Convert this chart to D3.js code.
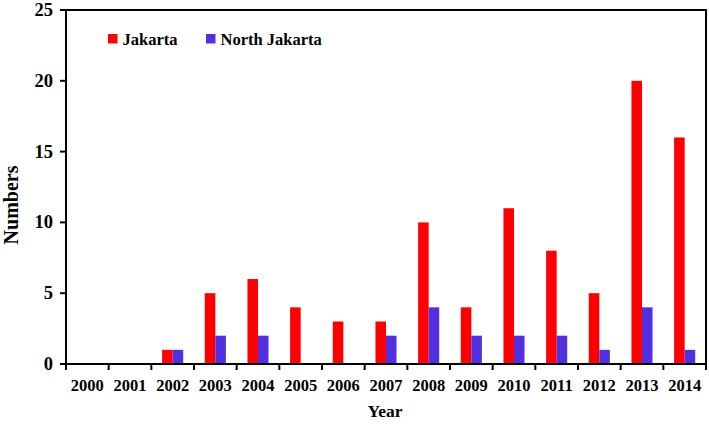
<!DOCTYPE html>
<html><head><meta charset="utf-8">
<script src="https://cdn.jsdelivr.net/npm/d3@7/dist/d3.min.js"></script>
<style>body{margin:0;background:#fff}svg{display:block}text{font-family:"Liberation Serif","Times New Roman",serif;font-weight:bold}</style>
</head><body><svg id="c" width="709" height="426"></svg>
<script>
const years = ["2000","2001","2002","2003","2004","2005","2006","2007","2008","2009","2010","2011","2012","2013","2014"];
const jakarta = [0,0,1,5,6,4,3,3,10,4,11,8,5,20,16];
const northJakarta = [0,0,1,2,2,0,0,2,4,2,2,2,1,4,1];
const seriesNames = ["Jakarta","North Jakarta"];
const yTicks = [0,5,10,15,20,25];
const colors = ["#ff0000","#5030e0"];

const svg = d3.select("#c");
const m = {l:66, r:3, t:10, b:62};
const W = 709, H = 426;
const x = d3.scaleBand().domain(years).range([m.l, W-m.r]).paddingInner(0).paddingOuter(0);
const y = d3.scaleLinear().domain([0,25]).range([H-m.b, m.t]);
const bw = x.bandwidth()*0.247;
const series = [jakarta, northJakarta];

const g = svg.append("g");
series.forEach((vals,si)=>{
  g.selectAll(".b"+si).data(years).enter().append("rect")
    .attr("x", d=>x(d)+x.bandwidth()/2 - bw + si*bw)
    .attr("width", bw)
    .attr("y", (d,i)=>y(vals[i]))
    .attr("height", (d,i)=>y(0)-y(vals[i]))
    .attr("fill", colors[si]);
});

// frame
svg.append("rect").attr("x",m.l).attr("y",m.t).attr("width",W-m.r-m.l).attr("height",H-m.b-m.t)
  .attr("fill","none").attr("stroke","#000").attr("stroke-width",2);

// x axis ticks at boundaries
const xb = years.map(d=>x(d)).concat([W-m.r]);
svg.selectAll(".xt").data(xb).enter().append("line")
  .attr("x1",d=>d).attr("x2",d=>d).attr("y1",H-m.b).attr("y2",H-m.b+6)
  .attr("stroke","#000").attr("stroke-width",2);
svg.selectAll(".xl").data(years).enter().append("text")
  .attr("x",d=>x(d)+x.bandwidth()/2).attr("y",H-m.b+27)
  .attr("text-anchor","middle").attr("font-size",16.5).text(d=>d);

// y axis
svg.selectAll(".yt").data(yTicks).enter().append("line")
  .attr("x1",m.l-6).attr("x2",m.l).attr("y1",d=>y(d)).attr("y2",d=>y(d))
  .attr("stroke","#000").attr("stroke-width",2);
svg.selectAll(".yl").data(yTicks).enter().append("text")
  .attr("x",m.l-13).attr("y",d=>y(d)+6)
  .attr("text-anchor","end").attr("font-size",18.5).text(d=>d);

// axis titles
svg.append("text").attr("x",385).attr("y",417).attr("text-anchor","middle")
  .attr("font-size",17.5).text("Year");
svg.append("text").attr("transform",`translate(18,205) rotate(-90)`)
  .attr("text-anchor","middle").attr("font-size",20).text("Numbers");

// legend
const lx = [108, 206];
seriesNames.forEach((n,i)=>{
  svg.append("rect").attr("x",lx[i]).attr("y",34).attr("width",9.5).attr("height",9.5).attr("fill",colors[i]);
  svg.append("text").attr("x",lx[i]+14.5).attr("y",44.5).attr("font-size",16.5).text(n);
});
</script></body></html>
